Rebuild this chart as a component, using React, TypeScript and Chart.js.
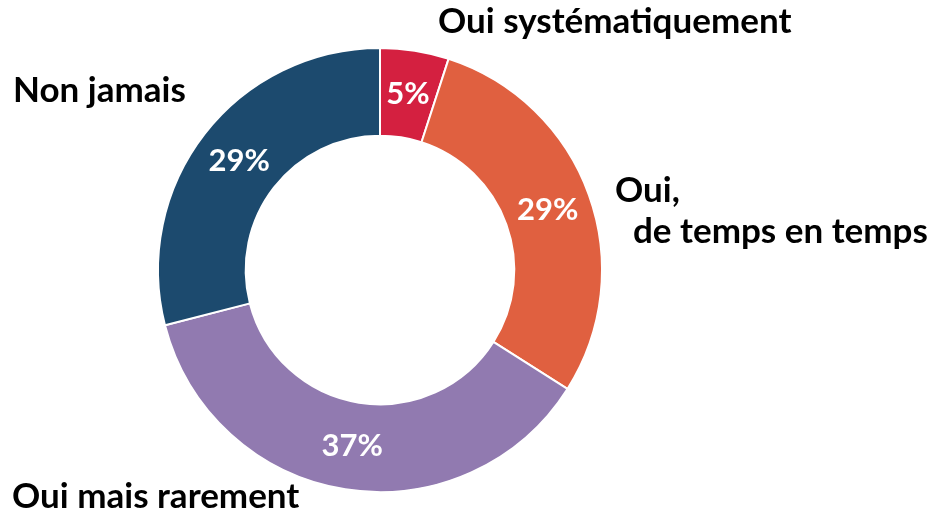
import React, { useEffect, useRef } from "react";
import { Chart, registerables } from "chart.js";

Chart.register(...registerables);

const categories = ["Oui systématiquement", "Oui, de temps en temps", "Oui mais rarement", "Non jamais"];
const values = [5, 29, 37, 29];
const percentLabels = ["5%", "29%", "37%", "29%"];
const colors = ["#D42040", "#E06040", "#917AB0", "#1C4A6E"];

const labelFont = "bold 35px Lato, 'Open Sans', sans-serif";
const pctFont = "bold 31px Lato, 'Open Sans', sans-serif";

// Outside label text lines; offsets (dx to left edge, dy to baseline) relative to chart centre
const outsideLines = [
  { text: "Oui systématiquement", dx: 58, dy: -237 },
  { text: "Oui,", dx: 235, dy: -68 },
  { text: "de temps en temps", dx: 253, dy: -27 },
  { text: "Oui mais rarement", dx: -368, dy: 238 },
  { text: "Non jamais", dx: -367, dy: -168 },
];

const labelPlugin = {
  id: "labelPlugin",
  afterDatasetsDraw(chart: any) {
    const ctx = chart.ctx;
    const meta = chart.getDatasetMeta(0);
    ctx.save();
    ctx.fillStyle = "#ffffff";
    ctx.font = pctFont;
    ctx.textAlign = "center";
    ctx.textBaseline = "middle";
    meta.data.forEach((arc: any, i: number) => {
      const p = arc.tooltipPosition();
      ctx.fillText(percentLabels[i], p.x, p.y);
    });
    const first = meta.data[0];
    const cx = first.x;
    const cy = first.y;
    ctx.fillStyle = "#000000";
    ctx.font = labelFont;
    ctx.textAlign = "left";
    ctx.textBaseline = "alphabetic";
    outsideLines.forEach((l) => {
      ctx.fillText(l.text, cx + l.dx, cy + l.dy);
    });
    ctx.restore();
  },
};

export default function App() {
  const ref = useRef<HTMLCanvasElement>(null);
  useEffect(() => {
    document.body.style.margin = "0";
    const chart = new Chart(ref.current!, {
      type: "doughnut",
      data: {
        labels: categories,
        datasets: [
          {
            data: values,
            backgroundColor: colors,
            borderColor: "#ffffff",
            borderWidth: 2,
            hoverOffset: 0,
          },
        ],
      },
      options: {
        responsive: false,
        animation: false,
        cutout: "60.5%",
        layout: { padding: { left: 157, right: 330, top: 47, bottom: 22 } },
        plugins: { legend: { display: false }, tooltip: { enabled: false } },
      },
      plugins: [labelPlugin],
    });
    return () => chart.destroy();
  }, []);
  return (
    <div style={{ position: "absolute", left: 0, top: 0, width: 933, height: 515, background: "#fff" }}>
      <canvas ref={ref} width={933} height={515} />
    </div>
  );
}
